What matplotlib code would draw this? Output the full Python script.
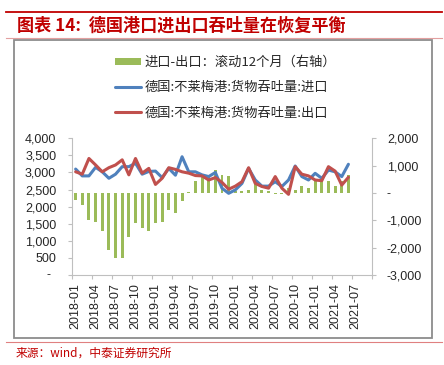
import numpy as np
import matplotlib
matplotlib.use('Agg')
import matplotlib.pyplot as plt
from matplotlib.lines import Line2D
from matplotlib.patches import Rectangle, Patch
from matplotlib.ticker import FixedLocator, NullFormatter, FuncFormatter

# ---------------- data ----------------
tick_labels = ['2018-01', '2018-04', '2018-07', '2018-10', '2019-01', '2019-04',
               '2019-07', '2019-10', '2020-01', '2020-04', '2020-07', '2020-10',
               '2021-01', '2021-04', '2021-07']
n_categories = 45  # category axis spans 2018-01 .. 2021-09

# 德国:不莱梅港:货物吞吐量:进口 (left axis), monthly 2018-01 .. 2021-06
imports = [3100, 2900, 2900, 3150, 3020, 2830, 2950, 3170, 3170, 3270, 2950, 3030,
           3040, 2850, 3120, 2920, 3460, 3020, 3020, 2930, 2880, 3000, 2540, 2390,
           2490, 2680, 3120, 2780, 2600, 2600, 2730, 2590, 2780, 3190, 2880, 2780,
           2975, 2830, 3070, 3020, 2880, 3240]
# 德国:不莱梅港:货物吞吐量:出口 (left axis)
exports = [3020, 2950, 3410, 3220, 3020, 3140, 3220, 3370, 2930, 3410, 2980, 3120,
           2650, 2830, 3140, 3090, 3020, 2980, 2910, 2900, 2780, 2850, 2710, 2510,
           2600, 2730, 3140, 2680, 2590, 2540, 2880, 2540, 2360, 3170, 2950, 2900,
           2780, 2760, 3170, 3040, 2630, 2860]
# 进口-出口：滚动12个月 (right axis)
net_rolling = [-250, -440, -990, -1050, -1390, -2085, -2370, -2370, -1620, -1085, -1270, -1380,
               -1110, -1050, -620, -745, -285, 50, 440, 580, 570, 830, 660, 630,
               80, 90, 110, 330, 110, 80, -40, -30, 190, 110, 255, 200,
               490, 480, 440, 250, 450, 670]

legend_labels = ['进口-出口：滚动12个月（右轴）',
                 '德国:不莱梅港:货物吞吐量:进口',
                 '德国:不莱梅港:货物吞吐量:出口']
title = '图表 14:  德国港口进出口吞吐量在恢复平衡'
source = '来源：wind，中泰证券研究所'

# ---------------- style ----------------
CJK = ['Noto Sans CJK SC', 'DejaVu Sans']
NUM = ['Liberation Sans', 'DejaVu Sans']
plt.rcParams['font.family'] = CJK
GREEN, BLUE, RED = '#9BBB59', '#4F81BD', '#C0504D'
AXC = '#BFBFBF'
TXT = '#262626'
TITLE_RED = '#C00000'

W, H = 444, 365
fig = plt.figure(figsize=(W / 100, H / 100), dpi=100)


def fx(px):
    return px / W


def fy(py):
    return 1 - py / H


L, R, T, B = 72.3, 371.7, 138.3, 275.0
ax = fig.add_axes([fx(L), fy(B), (R - L) / W, (B - T) / H])
ax2 = ax.twinx()

xb = np.arange(len(net_rolling))
bars = ax2.bar(xb, net_rolling, width=0.45, color=GREEN, zorder=2)
xl = np.arange(len(imports))
l1, = ax.plot(xl, imports, color=BLUE, lw=2.2, solid_joinstyle='round', solid_capstyle='round')
l2, = ax.plot(np.arange(len(exports)), exports, color=RED, lw=2.2,
              solid_joinstyle='round', solid_capstyle='round')

ax.set_zorder(ax2.get_zorder() + 1)
ax.patch.set_visible(False)

ax.set_xlim(-0.5, n_categories - 0.5)
ax.set_ylim(0, 4000)
ax2.set_ylim(-3000, 2000)

# x axis: tick marks at category boundaries, labels at category centers
ax.xaxis.set_major_locator(FixedLocator(np.arange(-0.5, n_categories, 3)))
ax.xaxis.set_major_formatter(NullFormatter())
ax.xaxis.set_minor_locator(FixedLocator(np.arange(0, 3 * len(tick_labels), 3)))
ax.set_xticklabels(tick_labels, minor=True, rotation=90, family=NUM, fontsize=9, color=TXT)
ax.tick_params(axis='x', which='major', length=3, width=0.8, color=AXC, direction='out')
ax.tick_params(axis='x', which='minor', length=0, pad=5.8)

# left y axis
ax.yaxis.set_major_locator(FixedLocator(np.arange(0, 4001, 500)))
ax.yaxis.set_major_formatter(FuncFormatter(lambda v, p: '' if v == 0 else f'{int(v):,}'))
ax.tick_params(axis='y', length=3, width=0.8, color=AXC, direction='out', pad=8.6,
               labelsize=9, labelcolor=TXT)
for lab in ax.get_yticklabels():
    lab.set_family(NUM)
fig.text(fx(50.5), fy(B), '-', ha='right', va='center', family=NUM, fontsize=9, color=TXT)

# right y axis
ax2.yaxis.set_major_locator(FixedLocator(np.arange(-3000, 2001, 1000)))
ax2.yaxis.set_major_formatter(FuncFormatter(lambda v, p: '-' if v == 0 else f'{int(v):,}'))
ax2.tick_params(axis='y', length=3, width=0.8, color=AXC, direction='out', pad=8.0,
                labelsize=9, labelcolor=TXT)
for lab in ax2.get_yticklabels():
    lab.set_family(NUM)

for a in (ax, ax2):
    a.spines['top'].set_visible(False)
    for s in ('left', 'right', 'bottom'):
        a.spines[s].set_color(AXC)
        a.spines[s].set_linewidth(0.8)
ax.spines['right'].set_visible(False)
ax2.spines['left'].set_visible(False)
ax2.spines['bottom'].set_visible(False)

# legend
handles = [Patch(facecolor=GREEN, edgecolor='none'), l1, l2]
fig.legend(handles, legend_labels, loc='upper left', bbox_to_anchor=(fx(115), fy(56)),
           frameon=False, borderpad=0, borderaxespad=0, fontsize=9.5,
           handlelength=1.97, handleheight=0.5, handletextpad=0.25, labelspacing=0.93,
           labelcolor=TXT)

# decorations
fig.add_artist(Line2D([fx(6), fx(442)], [fy(12.3)] * 2, transform=fig.transFigure,
                      color=TITLE_RED, lw=1.3))
fig.add_artist(Line2D([fx(6), fx(442)], [fy(38.3)] * 2, transform=fig.transFigure,
                      color='#E3A0A0', lw=0.8))
fig.add_artist(Line2D([fx(6), fx(442)], [fy(341.8)] * 2, transform=fig.transFigure,
                      color='#E08080', lw=0.8))
fig.add_artist(Rectangle((fx(14), fy(338.3)), (432.3 - 14) / W, (338.3 - 40) / H,
                         transform=fig.transFigure, fill=False, edgecolor='#8C8C8C', lw=1.3))

fig.text(fx(16.5), fy(25.5), title, ha='left', va='center', fontsize=12.3, fontweight='bold',
         color=TITLE_RED)
fig.text(fx(15.5), fy(353.5), source, ha='left', va='center', fontsize=8.5, color=TITLE_RED)

fig.savefig('out.png', dpi=100)
